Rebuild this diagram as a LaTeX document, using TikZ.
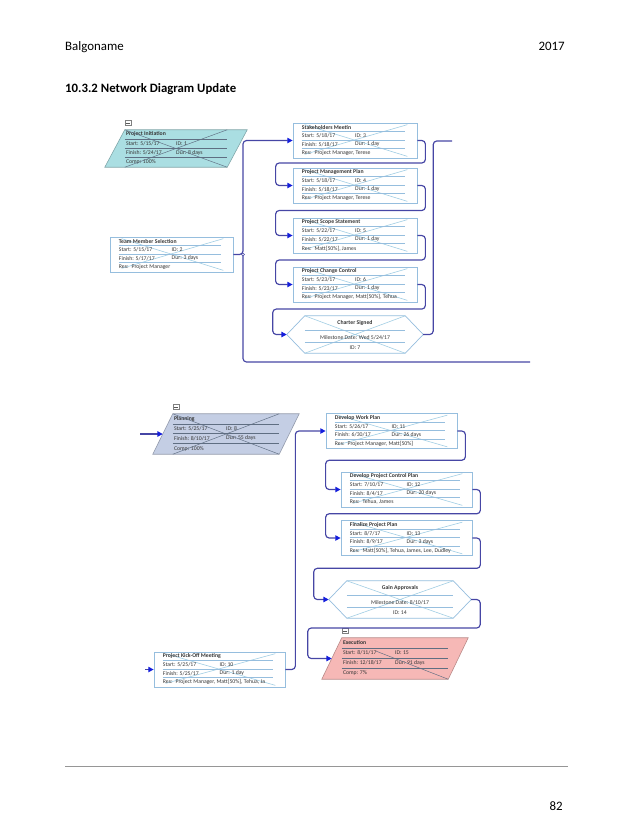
\documentclass[tikz,border=0pt]{standalone}
\usepackage{fontspec}
\setmainfont{Carlito}
\usetikzlibrary{calc,arrows.meta}

\definecolor{boxline}{RGB}{150,190,222}
\definecolor{crossline}{RGB}{160,205,228}
\definecolor{linkline}{RGB}{70,70,165}
\definecolor{tipblue}{RGB}{20,30,220}
\definecolor{initfill}{RGB}{170,222,226}
\definecolor{planfill}{RGB}{196,206,228}
\definecolor{execfill}{RGB}{246,184,182}
\definecolor{sumline}{RGB}{95,110,130}
\definecolor{celltext}{RGB}{55,55,55}
\definecolor{rulegray}{RGB}{150,150,150}

\tikzset{
  cell/.style={font=\fontsize{4.9}{5}\selectfont, text=celltext, inner sep=0pt, anchor=west},
  head/.style={cell, font=\fontsize{4.9}{5}\selectfont\bfseries},
  taskbox/.style={draw=boxline, line width=0.6pt, fill=white, inner sep=0pt, minimum height=35*0.03cm},
  sumbody/.style={inner sep=0pt},
  boxw/.style={minimum width=#1*0.03cm},
  boxh/.style={minimum height=#1*0.03cm},
  collapse/.style={draw=gray, fill=white, line width=0.3pt, inner sep=0pt, minimum width=6*0.03cm, minimum height=5*0.03cm},
  link/.style={draw=linkline, line width=1pt, rounded corners=3pt},
  arrow/.style={-{Triangle[length=4.5pt,width=4.5pt,color=tipblue]}},
  pagetext/.style={font=\fontsize{11}{13}\selectfont, inner sep=0pt},
  secthead/.style={font=\fontsize{10.9}{13}\selectfont\bfseries, inner sep=0pt},
}

% rows of a plain task box
\newcommand{\taskrows}[7]{%
  \draw[crossline, line width=0.5pt]
    ($(#1.north west)+(12,2)$) -- ($(#1.south east)+(-10,-2)$)
    ($(#1.south west)+(12,-4)$) -- ($(#1.north east)+(-10,2)$);
  \foreach \f in {.25,.49,.73}
    \draw[boxline, line width=0.5pt] ($(#1.north west)!\f!(#1.south west)+(9,0)$) -- ($(#1.north east)!\f!(#1.south east)+(-12,0)$);
  \node[head] (#1-t) at ($(#1.north west)!.13!(#1.south west)+(9,0)$) {#2};
  \node[cell] (#1-s) at ($(#1.north west)!.37!(#1.south west)+(9,0)$) {#3};
  \node[cell] (#1-i) at ($(#1.north)!.37!(#1.south)$) {#4};
  \node[cell] (#1-f) at ($(#1.north west)!.61!(#1.south west)+(9,0)$) {#5};
  \node[cell] (#1-d) at ($(#1.north)!.61!(#1.south)$) {#6};
  \node[cell] (#1-r) at ($(#1.north west)!.86!(#1.south west)+(9,0)$) {#7};
}

% summary task: parallelogram
\newcommand{\sumrows}[8]{%
  \draw[draw=#2!75!black, line width=0.5pt, fill=#2] (#1.north west) -- ($(#1.north east)+(20,0)$) -- (#1.south east) -- ($(#1.south west)+(-20,0)$) -- cycle;
  \coordinate (#1-in) at ($(#1.west)+(-10,0)$);
  \coordinate (#1-out) at ($(#1.east)+(10,0)$);
  \node[collapse] (#1-c) at ($(#1.north west)+(3,-7)$) {};
  \draw[gray!70!black, line width=0.4pt] ($(#1-c.west)+(1.3,0)$) -- ($(#1-c.east)+(-1.3,0)$);
  \foreach \f in {.25,.49,.73}
    \draw[sumline, line width=0.4pt] ($(#1.north west)!\f!(#1.south west)$) -- ($(#1.north east)!\f!(#1.south east)$);
  \node[head] (#1-t) at ($(#1.north west)!.12!(#1.south west)+(1,0)$) {#3};
  \node[cell] (#1-s) at ($(#1.north west)!.37!(#1.south west)+(1,0)$) {#4};
  \node[cell] (#1-i) at ($(#1.north)!.37!(#1.south)$) {#5};
  \node[cell] (#1-f) at ($(#1.north west)!.61!(#1.south west)+(1,0)$) {#6};
  \node[cell] (#1-d) at ($(#1.north)!.61!(#1.south)$) {#7};
  \node[cell] (#1-r) at ($(#1.north west)!.86!(#1.south west)+(1,0)$) {#8};
}

% milestone: hexagon
\newcommand{\milerows}[4]{%
  \draw[boxline, line width=0.6pt, fill=white] (#1.north west) -- (#1.north east) -- ($(#1.east)+(18,0)$) -- (#1.south east) -- (#1.south west) -- ($(#1.west)+(-18,0)$) -- cycle;
  \coordinate (#1-in) at ($(#1.west)+(-18,0)$);
  \coordinate (#1-out) at ($(#1.east)+(18,0)$);
  \draw[crossline, line width=0.5pt] (#1.north west) -- (#1.south east) (#1.south west) -- (#1.north east);
  \foreach \f in {.38,.70}
    \draw[boxline, line width=0.5pt] ($(#1.north west)!\f!(#1.south west)$) -- ($(#1.north east)!\f!(#1.south east)$);
  \node[head, anchor=center] (#1-t) at ($(#1.north)!.19!(#1.south)$) {#2};
  \node[cell, anchor=center] (#1-m) at ($(#1.north)!.59!(#1.south)$) {#3};
  \node[cell, anchor=center] (#1-i) at ($(#1.north)!.86!(#1.south)$) {#4};
}

\begin{document}
\begin{tikzpicture}[x=0.03cm, y=-0.03cm]
\useasboundingbox (0,0) rectangle (638,826);

% page head and foot
\node[pagetext, anchor=base west] (runhead) at (65,50) {Balgoname};
\node[pagetext, anchor=base east] (runyear) at (565,50) {2017};
\node[secthead, anchor=base west] (sect) at (65,92) {10.3.2 Network Diagram Update};
\coordinate (footl) at (65,766);
\coordinate (footr) at (568,766);
\draw[rulegray, line width=0.5pt] (footl) -- (footr);
\node[pagetext, anchor=base east] (pageno) at (563,810) {82};

% first network
\node[sumbody, boxw=102, boxh=37] (init) at (176,148.5) {};
\node[taskbox, boxw=124] (stake) at (355,140.5) {};
\node[taskbox, boxw=124] (pmp) at (355,185.5) {};
\node[taskbox, boxw=124] (scope) at (355,235.5) {};
\node[taskbox, boxw=124] (change) at (355,284.5) {};
\node[taskbox, boxw=123] (team) at (171.5,254.5) {};
\node[sumbody, boxw=100, boxh=37] (charter) at (355,334.5) {};

\sumrows{init}{initfill}{Project Initiation}{Start: 5/15/17}{ID: 1}{Finish: 5/24/17}{Dur: 8 days}{Comp: 100\%}
\draw[sumline, line width=0.4pt] (init.north west) -- (init.south east) (init.south west) -- (init.north east);
\taskrows{stake}{Stakeholders Meetin}{Start: 5/18/17}{ID: 3}{Finish: 5/18/17}{Dur: 1 day}{Res: \ Project Manager, Terese}
\taskrows{pmp}{Project Management Plan}{Start: 5/18/17}{ID: 4}{Finish: 5/18/17}{Dur: 1 day}{Res: \ Project Manager, Terese}
\taskrows{scope}{Project Scope Statement}{Start: 5/22/17}{ID: 5}{Finish: 5/22/17}{Dur: 1 day}{Res: \ Matt[50\%], James}
\taskrows{change}{Project Change Control}{Start: 5/23/17}{ID: 6}{Finish: 5/23/17}{Dur: 1 day}{Res: \ Project Manager, Matt[50\%], Tehua}
\taskrows{team}{Team Member Selection}{Start: 5/15/17}{ID: 2}{Finish: 5/17/17}{Dur: 3 days}{Res: \ Project Manager}
\milerows{charter}{Charter Signed}{Milestone Date: Wed 5/24/17}{ID: 7}

\coordinate (bus) at (243,254.5);
\coordinate (topexit) at (530,362);
\coordinate (sideexit) at (452,141);
\draw[link, arrow] (team.east) -- (bus) |- (stake.west);
\draw[link] (bus) |- (topexit);
\draw[linkline, fill=white, line width=0.5pt] (bus) circle (1.3pt);
\foreach \a/\b in {stake/pmp, pmp/scope, scope/change}
  \draw[link, arrow] (\a.east) -- ++(8,0) |- ($(\a.south)!.5!(\b.north)$) -| ($(\b.west)+(-17,0)$) -- (\b.west);
\draw[link, arrow] (change.east) -- ++(8,0) |- ($(change.south)!.5!(charter.north)$) -| ($(charter-in)+(-14,0)$) -- (charter-in);
\draw[link] (charter-out) -- ++(10,0) |- (sideexit);

% second network
\node[sumbody, boxw=106, boxh=40] (planning) at (226,434) {};
\node[taskbox, boxw=131] (kickoff) at (219.5,669.5) {};
\node[taskbox, boxw=131] (workplan) at (391.5,431) {};
\node[taskbox, boxw=131] (ctrlplan) at (406.5,489.5) {};
\node[taskbox, boxw=131] (finalplan) at (406.5,538) {};
\node[sumbody, boxw=106, boxh=37] (gain) at (400,599.5) {};
\node[sumbody, boxw=106, boxh=41] (execution) at (395,658.5) {};

\sumrows{planning}{planfill}{Planning}{Start: 5/25/17}{ID: 8}{Finish: 8/10/17}{Dur: 55 days}{Comp: 100\%}
\draw[sumline, line width=0.4pt] (planning.north west) -- (planning.south east) (planning.south west) -- (planning.north east);
\taskrows{workplan}{Develop Work Plan}{Start: 5/26/17}{ID: 11}{Finish: 6/30/17}{Dur: 26 days}{Res: \ Project Manager, Matt[50\%]}
\taskrows{ctrlplan}{Develop Project Control Plan}{Start: 7/10/17}{ID: 12}{Finish: 8/4/17}{Dur: 20 days}{Res: \ Tehua, James}
\taskrows{finalplan}{Finalize Project Plan}{Start: 8/7/17}{ID: 13}{Finish: 8/9/17}{Dur: 3 days}{Res: \ Matt[50\%], Tehua, James, Lee, Dudley}
\milerows{gain}{Gain Approvals}{Milestone Date: 8/10/17}{ID: 14}
\sumrows{execution}{execfill}{Execution}{Start: 8/11/17}{ID: 15}{Finish: 12/18/17}{Dur: 91 days}{Comp: 7\%}
\draw[sumline, line width=0.4pt] ($(execution.north west)!.32!(execution.south east)$) -- (execution.south east);
\taskrows{kickoff}{Project Kick-Off Meeting}{Start: 5/25/17}{ID: 10}{Finish: 5/25/17}{Dur: 1 day}{Res: \ Project Manager, Matt[50\%], Tehua, Ja}

\coordinate (plansrc) at (140,434);
\coordinate (kicksrc) at (145,669.5);
\draw[link, arrow] (plansrc) -- (planning-in);
\draw[link, arrow] (kicksrc) -- (kickoff.west);
\draw[link, arrow] (kickoff.east) -- ++(10,0) |- (workplan.west);
\foreach \a/\b in {workplan/ctrlplan, ctrlplan/finalplan}
  \draw[link, arrow] (\a.east) -- ++(8,0) |- ($(\a.south)!.5!(\b.north)$) -| ($(\b.west)+(-15,0)$) -- (\b.west);
\draw[link, arrow] (finalplan.east) -- ++(8,0) |- ($(finalplan.south)!.5!(gain.north)$) -| ($(gain-in)+(-15,0)$) -- (gain-in);
\draw[link, arrow] (gain-out) -- ++(9,0) |- ($(gain.south)!.5!(execution.north)$) -| ($(execution-in)+(-24,0)$) -- (execution-in);
\end{tikzpicture}
\end{document}
